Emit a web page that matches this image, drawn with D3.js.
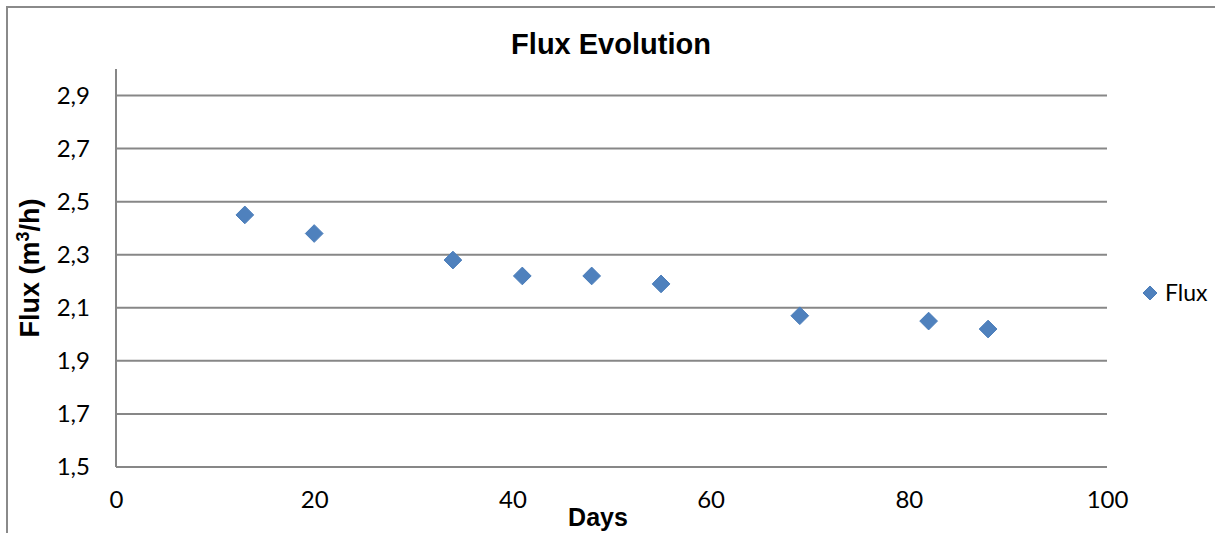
<!DOCTYPE html>
<html>
<head>
<meta charset="utf-8">
<script src="https://cdn.jsdelivr.net/npm/d3@7"></script>
<style>
  html, body { margin: 0; padding: 0; background: #fff; }
  svg { display: block; }
</style>
</head>
<body>
<svg id="chart" width="1215" height="533"></svg>
<script>
// Measured flux over time
const days = [13, 20, 34, 41, 48, 55, 69, 82, 88];
const flux = [2.45, 2.38, 2.28, 2.22, 2.22, 2.19, 2.07, 2.05, 2.02];
const xTicks = [0, 20, 40, 60, 80, 100];
const yTicks = [1.5, 1.7, 1.9, 2.1, 2.3, 2.5, 2.7, 2.9];
const seriesName = "Flux";

const svg = d3.select("#chart");
const W = 1215, H = 533;
const plot = { left: 116, right: 1107, top: 69, bottom: 467 };
const gridColor = "#878787";
const markerFill = "#4F81BD";
const markerStroke = "#4A7DBA";
const tickFont = "Lato, 'Open Sans', sans-serif";
const boldFont = "'Liberation Sans', Arial, sans-serif";

// outer chart frame
svg.append("rect")
  .attr("x", 7).attr("y", 7)
  .attr("width", W + 20).attr("height", H + 20)
  .attr("fill", "#fff")
  .attr("stroke", "#8a8a8a").attr("stroke-width", 2);

const x = d3.scaleLinear().domain([0, 100]).range([plot.left, plot.right]);
const y = d3.scaleLinear().domain([1.5, 3.0]).range([plot.bottom, plot.top]);

// horizontal gridlines
svg.append("g")
  .selectAll("line")
  .data(yTicks.filter(t => t > 1.5))
  .join("line")
  .attr("x1", plot.left).attr("x2", plot.right)
  .attr("y1", d => y(d)).attr("y2", d => y(d))
  .attr("stroke", gridColor).attr("stroke-width", 2);

// y axis
const yAxis = svg.append("g")
  .attr("transform", `translate(${plot.left},0)`)
  .call(d3.axisLeft(y).tickValues(yTicks).tickSize(0).tickPadding(26)
    .tickFormat(d => d3.format(".1f")(d).replace(".", ",")));
yAxis.select(".domain").attr("stroke", gridColor).attr("stroke-width", 2)
  .attr("d", `M0,${plot.top}V${plot.bottom}`);
yAxis.selectAll("text")
  .attr("font-family", tickFont).attr("font-size", 24).attr("fill", "#000");

// x axis
const xAxis = svg.append("g")
  .attr("transform", `translate(0,${plot.bottom})`)
  .call(d3.axisBottom(x).tickValues(xTicks).tickSize(0).tickPadding(24));
xAxis.select(".domain").attr("stroke", gridColor).attr("stroke-width", 2)
  .attr("d", `M${plot.left},0H${plot.right}`);
xAxis.selectAll("text")
  .attr("font-family", tickFont).attr("font-size", 24).attr("fill", "#000");

// data markers
const diamond = d3.symbol().type(d3.symbolDiamond2).size(200);
svg.append("g")
  .selectAll("path")
  .data(days.map((d, i) => ({ d, v: flux[i] })))
  .join("path")
  .attr("d", diamond)
  .attr("transform", p => `translate(${x(p.d)},${y(p.v)})`)
  .attr("fill", markerFill)
  .attr("stroke", markerStroke).attr("stroke-width", 1);

// title
svg.append("text")
  .attr("x", 611).attr("y", 54)
  .attr("text-anchor", "middle")
  .attr("font-family", boldFont).attr("font-weight", "bold")
  .attr("font-size", 29)
  .text("Flux Evolution");

// x axis title
svg.append("text")
  .attr("x", 598).attr("y", 526)
  .attr("text-anchor", "middle")
  .attr("font-family", boldFont).attr("font-weight", "bold")
  .attr("font-size", 25)
  .text("Days");

// y axis title
const yt = svg.append("text")
  .attr("transform", "translate(39,268) rotate(-90)")
  .attr("text-anchor", "middle")
  .attr("font-family", boldFont).attr("font-weight", "bold")
  .attr("font-size", 27);
yt.append("tspan").text("Flux (m");
yt.append("tspan").attr("font-size", 18).attr("dy", -10).text("3");
yt.append("tspan").attr("dy", 10).text("/h)");

// legend
const legend = svg.append("g").attr("transform", "translate(1150,293)");
legend.append("path")
  .attr("d", d3.symbol().type(d3.symbolDiamond2).size(125))
  .attr("fill", markerFill).attr("stroke", markerStroke).attr("stroke-width", 1);
legend.append("text")
  .attr("x", 15).attr("y", 8)
  .attr("font-family", tickFont).attr("font-size", 23).attr("fill", "#000")
  .text(seriesName);
</script>
</body>
</html>
